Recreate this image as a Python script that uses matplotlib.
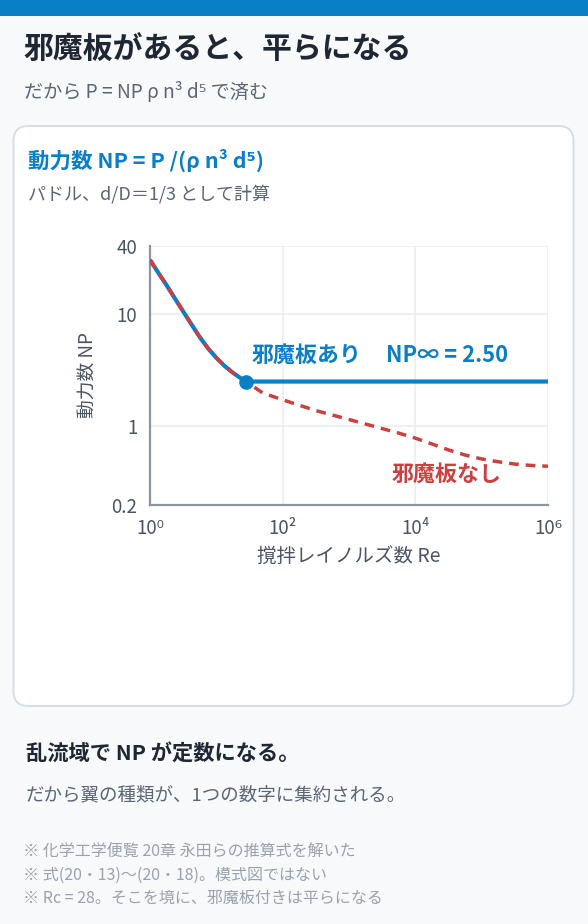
import matplotlib
matplotlib.use("Agg")
from matplotlib import pyplot as plt
from matplotlib.patches import FancyBboxPatch, Rectangle

plt.rcParams['font.family'] = ['Noto Sans CJK JP', 'DejaVu Sans']

# laminar / transition part, shared by both curves
re_lam = [1, 1.33, 1.78, 2.37, 3.16, 4.22, 5.62, 7.5, 10, 13.3, 17.8, 22.4, 28]
np_lam = [30.1, 23.2, 17.9, 13.7, 10.5, 8.04, 6.21, 4.93, 4.06, 3.44, 2.99, 2.72, 2.5]

# baffled: flat after Rc
re_baf = re_lam + [1e6]
np_baf = np_lam + [2.5]

# unbaffled: keeps falling
re_tail = [50, 100, 316, 1000, 3160, 5620, 1e4, 1.78e4, 3.16e4, 5.62e4, 1e5, 1.78e5,
           3.16e5, 5.62e5, 1e6]
np_tail = [1.98, 1.72, 1.38, 1.15, 0.955, 0.871, 0.785, 0.697, 0.617, 0.556, 0.513, 0.484,
           0.462, 0.449, 0.442]
re_unb = re_lam + re_tail
np_unb = np_lam + np_tail

rc_point = (28, 2.5)

x_ticks = [1, 1e2, 1e4, 1e6]
x_labels = ["10⁰", "10²", "10⁴", "10⁶"]
y_ticks = [0.2, 1, 10, 40]
y_labels = ["0.2", "1", "10", "40"]

BLUE = "#0a7fc8"
RED = "#cc4040"
DARK = "#1e2733"
GRAY = "#5b6574"
LIGHT = "#9aa2ad"
BG = "#f7f9fb"
AXIS_TXT = "#4a5463"

W, H = 588, 924
fig = plt.figure(figsize=(W / 100, H / 100), dpi=100)
fig.patch.set_facecolor(BG)

def fy(px):
    return 1 - px / H

def fx(px):
    return px / W

# top bar
fig.patches.append(Rectangle((0, fy(16)), 1, 16 / H, transform=fig.transFigure,
                             facecolor=BLUE, edgecolor="none", zorder=0))
# card
fig.patches.append(FancyBboxPatch((0.135, (H - 706) / 100), 5.60, 5.80,
                                  boxstyle="round,pad=0,rounding_size=0.15",
                                  transform=fig.dpi_scale_trans,
                                  facecolor="white", edgecolor="#d6dee7", lw=1.4, zorder=0))

fig.text(fx(23), fy(50), "邪魔板があると、平らになる", fontsize=21.5, fontweight="bold",
         color=DARK, va="center")
fig.text(fx(24), fy(93), "だから P = NP ρ n³ d⁵ で済む", fontsize=13.8, color=GRAY, va="center")

fig.text(fx(28), fy(160), "動力数 NP = P /(ρ n³ d⁵)", fontsize=15.5, fontweight="bold",
         color=BLUE, va="center")
fig.text(fx(28), fy(194), "パドル、d/D＝1/3 として計算", fontsize=13, color=GRAY, va="center")

fig.text(fx(26), fy(754), "乱流域で NP が定数になる。", fontsize=15.3, fontweight="bold",
         color=DARK, va="center")
fig.text(fx(26), fy(795), "だから翼の種類が、1つの数字に集約される。", fontsize=13.3,
         color=GRAY, va="center")
notes = ["※ 化学工学便覧 20章 永田らの推算式を解いた",
         "※ 式(20・13)〜(20・18)。模式図ではない",
         "※ Rc = 28。そこを境に、邪魔板付きは平らになる"]
for i, n in enumerate(notes):
    fig.text(fx(23), fy(852 + i * 23), n, fontsize=11.5, color=LIGHT, va="center")

# chart
ax = fig.add_axes([fx(150), fy(505), fx(548) - fx(150), fy(246) - fy(505)])
ax.set_zorder(2)
ax.set_facecolor("white")
ax.set_xscale("log")
ax.set_yscale("log")
ax.set_xlim(1, 1e6)
ax.set_ylim(0.2, 40)

ax.set_xticks(x_ticks)
ax.set_xticklabels(x_labels)
ax.set_yticks(y_ticks)
ax.set_yticklabels(y_labels)
ax.minorticks_off()
ax.tick_params(length=0, labelsize=13.5, colors=AXIS_TXT)
ax.tick_params(axis="x", pad=9)
ax.tick_params(axis="y", pad=9)

for v in [1e2, 1e4, 1e6]:
    ax.axvline(v, color="#e8edf2", lw=1.1, zorder=0)
for v in [1, 10, 40]:
    ax.axhline(v, color="#e8edf2", lw=1.1, zorder=0)

for s in ["top", "right"]:
    ax.spines[s].set_visible(False)
for s in ["left", "bottom"]:
    ax.spines[s].set_color("#8a94a2")
    ax.spines[s].set_linewidth(1.6)

ax.plot(re_baf, np_baf, color=BLUE, lw=3.0, solid_capstyle="butt", zorder=3)
ax.plot(re_unb, np_unb, color=RED, lw=2.5, linestyle=(0, (2.8, 2.0)), zorder=4)
ax.plot(*rc_point, marker="o", ms=9.5, color=BLUE, zorder=5, clip_on=False)

ax.text(34.5, 4.3, "邪魔板あり", fontsize=15.8, fontweight="bold", color=BLUE, va="center")
ax.text(3630, 4.3, "NP∞ = 2.50", fontsize=15.8, fontweight="bold", color=BLUE, va="center")
ax.text(4470, 0.378, "邪魔板なし", fontsize=15.8, fontweight="bold", color=RED, va="center")

ax.set_xlabel("撹拌レイノルズ数 Re", fontsize=14, color=AXIS_TXT, labelpad=5)
ax.set_ylabel("動力数 NP", fontsize=13.5, color=AXIS_TXT, labelpad=10)

fig.savefig("out.png", dpi=100, facecolor=fig.get_facecolor())
